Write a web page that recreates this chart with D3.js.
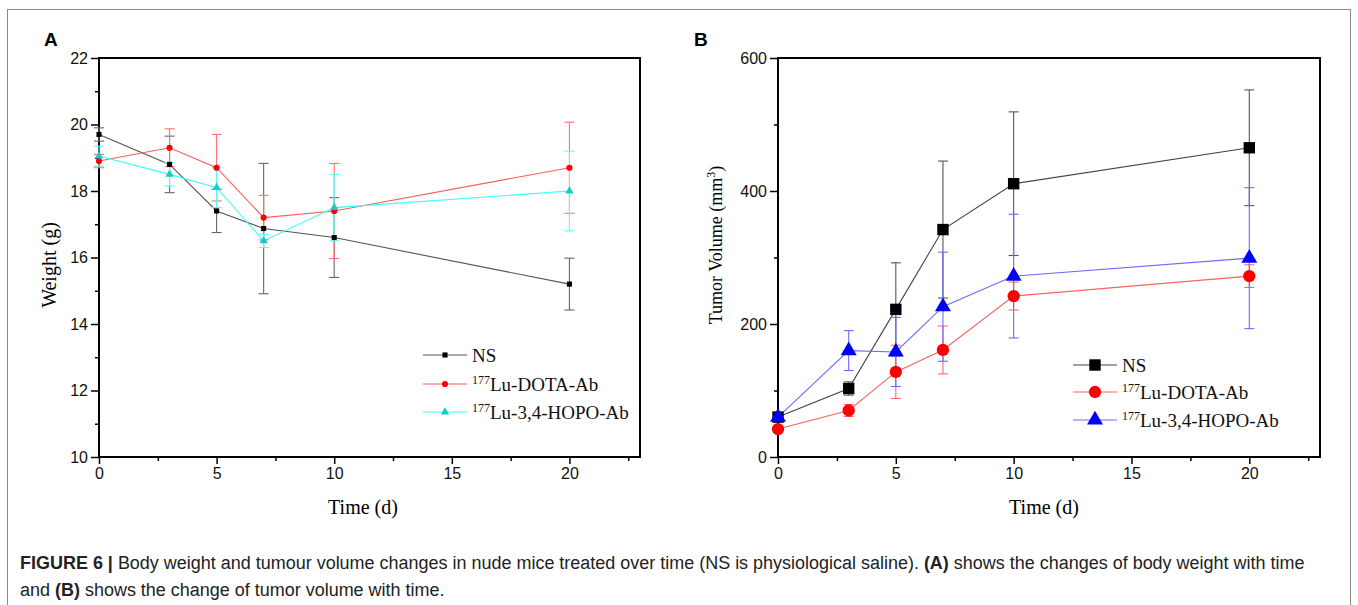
<!DOCTYPE html>
<html>
<head>
<meta charset="utf-8">
<script src="https://cdn.jsdelivr.net/npm/d3@7"></script>
<style>
  body { margin: 0; background: #fff; }
  svg { display: block; }
</style>
</head>
<body>
<script>
// time points (days)
var days = [0, 3, 5, 7, 10, 20];

// panel A: body weight (g), mean and error
var weightNS = [19.7, 18.8, 17.4, 16.87, 16.6, 15.2];
var weightNSErr = [0.2, 0.85, 0.65, 1.96, 1.2, 0.78];
var weightDOTA = [18.9, 19.3, 18.7, 17.2, 17.4, 18.7];
var weightDOTAErr = [0.2, 0.57, 1.0, 0.67, 1.43, 1.37];
var weightHOPO = [19.05, 18.5, 18.1, 16.5, 17.5, 18.0];
var weightHOPOErr = [0.3, 0.35, 0.6, 0.2, 1.0, 1.2];

// panel B: tumor volume (mm3), mean and error
var volNS = [60, 103, 222, 342, 411, 465];
var volNSErr = [5, 10, 70, 103, 108, 87];
var volDOTA = [42, 70, 128, 161, 242, 272];
var volDOTAErr = [5, 9, 40, 36, 21, 17];
var volHOPO = [60, 160, 158, 226, 272, 299];
var volHOPOErr = [7, 30, 52, 82, 93, 106];

var xTicks = [0, 5, 10, 15, 20];
var weightTicks = [10, 12, 14, 16, 18, 20, 22];
var volTicks = [0, 200, 400, 600];

var W = 1358, H = 605;
var serif = "'Liberation Serif', 'Times New Roman', serif";
var sans = "'Liberation Sans', Arial, sans-serif";

var svg = d3.select("body").append("svg")
    .attr("width", W)
    .attr("height", H);

// outer frame around figure + caption
svg.append("rect")
    .attr("x", 7.5).attr("y", 9.5)
    .attr("width", 1343).attr("height", 620)
    .attr("fill", "none")
    .attr("stroke", "#8a8a8a")
    .attr("stroke-width", 1);

function drawPanel(cfg) {
    var g = svg.append("g");
    var x = d3.scaleLinear().domain([0, 23]).range([cfg.left, cfg.right]);
    var y = d3.scaleLinear().domain(cfg.yDomain).range([cfg.bottom, cfg.top]);

    // panel letter
    g.append("text")
        .attr("x", cfg.letterX).attr("y", 46)
        .style("font-family", sans).style("font-weight", "bold")
        .style("font-size", "19px")
        .text(cfg.letter);

    // minor ticks sit halfway between major ones
    var xMinor = d3.range(2.5, 23, 5);
    var yMinor = d3.range(cfg.yDomain[0] + cfg.yStep / 2, cfg.yDomain[1], cfg.yStep);

    var xAxis = d3.axisBottom(x).tickValues(xTicks).tickSize(7).tickPadding(4);
    var xAxisMinor = d3.axisBottom(x).tickValues(xMinor).tickSize(4).tickFormat("");
    var yAxis = d3.axisLeft(y).tickValues(cfg.yTicks).tickSize(8).tickPadding(3);
    var yAxisMinor = d3.axisLeft(y).tickValues(yMinor).tickSize(4).tickFormat("");

    [xAxis, xAxisMinor].forEach(function(a) {
        g.append("g")
            .attr("transform", "translate(0," + cfg.bottom + ")")
            .call(a);
    });
    [yAxis, yAxisMinor].forEach(function(a) {
        g.append("g")
            .attr("transform", "translate(" + cfg.left + ",0)")
            .call(a);
    });
    g.selectAll(".domain").remove();
    g.selectAll(".tick line").attr("stroke", "#000").attr("stroke-width", 1.5);
    g.selectAll(".tick text")
        .style("font-family", sans).style("font-size", "16px")
        .attr("fill", "#111");

    // frame
    g.append("rect")
        .attr("x", cfg.left).attr("y", cfg.top)
        .attr("width", cfg.right - cfg.left).attr("height", cfg.bottom - cfg.top)
        .attr("fill", "none").attr("stroke", "#000").attr("stroke-width", 2);

    // axis titles
    g.append("text")
        .attr("x", cfg.xTitleX).attr("y", 514)
        .attr("text-anchor", "middle")
        .style("font-family", serif).style("font-size", "20px")
        .text("Time (d)");

    var yt = g.append("text")
        .attr("transform", "translate(" + cfg.yTitleX + "," + cfg.yTitleY + ") rotate(-90)")
        .attr("text-anchor", "middle")
        .style("font-family", serif).style("font-size", cfg.yTitleSize);
    cfg.yTitle(yt);

    var line = d3.line()
        .x(function(d, i) { return x(days[i]); })
        .y(function(d) { return y(d); });

    cfg.series.forEach(function(s) {
        g.append("path")
            .datum(s.values)
            .attr("d", line)
            .attr("fill", "none")
            .attr("stroke", s.line)
            .attr("stroke-width", 1.1);
    });

    // error bars
    cfg.series.forEach(function(s) {
        var eb = g.append("g").attr("stroke", s.err).attr("stroke-width", 1.1);
        s.values.forEach(function(v, i) {
            var cx = x(days[i]);
            var y1 = y(v + s.errs[i]), y0 = y(v - s.errs[i]);
            eb.append("line").attr("x1", cx).attr("x2", cx).attr("y1", y1).attr("y2", y0);
            [y1, y0].forEach(function(yy) {
                eb.append("line")
                    .attr("x1", cx - cfg.cap).attr("x2", cx + cfg.cap)
                    .attr("y1", yy).attr("y2", yy);
            });
        });
    });

    // markers
    cfg.series.forEach(function(s) {
        g.append("g").selectAll("path")
            .data(s.values)
            .join("path")
            .attr("transform", function(d, i) {
                return "translate(" + x(days[i]) + "," + y(d) + ")";
            })
            .attr("d", d3.symbol().type(s.symbol).size(s.size))
            .attr("fill", s.marker);
    });

    // legend
    var lg = g.append("g");
    cfg.series.forEach(function(s, i) {
        var ly = cfg.legendY[i];
        lg.append("line")
            .attr("x1", cfg.legendX).attr("x2", cfg.legendX + 44)
            .attr("y1", ly).attr("y2", ly)
            .attr("stroke", s.line).attr("stroke-width", 1.1);
        lg.append("path")
            .attr("transform", "translate(" + (cfg.legendX + 22) + "," + ly + ")")
            .attr("d", d3.symbol().type(s.symbol).size(s.size))
            .attr("fill", s.marker);
        var t = lg.append("text")
            .attr("x", cfg.legendX + 49).attr("y", ly + 7)
            .style("font-family", serif).style("font-size", "19px")
            .attr("fill", "#111");
        if (s.sup) {
            t.append("tspan").attr("dy", -7).style("font-size", "12px").text(s.sup);
            t.append("tspan").attr("dy", 7).text(s.name);
        } else {
            t.text(s.name);
        }
    });
}

drawPanel({
    letter: "A", letterX: 44,
    left: 99, right: 640, top: 58, bottom: 457,
    yDomain: [10, 22], yStep: 2, yTicks: weightTicks,
    xTitleX: 363, yTitleX: 56, yTitleY: 265, yTitleSize: "20px",
    yTitle: function(t) { t.text("Weight (g)"); },
    cap: 5,
    legendX: 423, legendY: [355, 384, 412],
    series: [
        { name: "NS", values: weightNS, errs: weightNSErr, symbol: d3.symbolSquare, size: 26,
          line: "#555", err: "#666", marker: "#000" },
        { name: "Lu-DOTA-Ab", sup: "177", values: weightDOTA, errs: weightDOTAErr, symbol: d3.symbolCircle, size: 30,
          line: "#ff5a5a", err: "#ff7070", marker: "#f00" },
        { name: "Lu-3,4-HOPO-Ab", sup: "177", values: weightHOPO, errs: weightHOPOErr, symbol: d3.symbolTriangle, size: 30,
          line: "#3ff", err: "#5ff", marker: "#1cc" }
    ]
});

drawPanel({
    letter: "B", letterX: 694,
    left: 778, right: 1320, top: 58, bottom: 457,
    yDomain: [0, 600], yStep: 200, yTicks: volTicks,
    xTitleX: 1044, yTitleX: 722, yTitleY: 245, yTitleSize: "18px",
    yTitle: function(t) {
        t.append("tspan").text("Tumor Volume (mm");
        t.append("tspan").attr("dy", -7).style("font-size", "12px").text("3");
        t.append("tspan").attr("dy", 7).text(")");
    },
    cap: 5,
    legendX: 1073, legendY: [365, 392, 420],
    series: [
        { name: "NS", values: volNS, errs: volNSErr, symbol: d3.symbolSquare, size: 130,
          line: "#444", err: "#555", marker: "#000" },
        { name: "Lu-DOTA-Ab", sup: "177", values: volDOTA, errs: volDOTAErr, symbol: d3.symbolCircle, size: 120,
          line: "#ff6060", err: "#ff6a6a", marker: "#f00" },
        { name: "Lu-3,4-HOPO-Ab", sup: "177", values: volHOPO, errs: volHOPOErr, symbol: d3.symbolTriangle, size: 110,
          line: "#6a6aff", err: "#6a6aff", marker: "#00f" }
    ]
});

// caption
var cap1 = svg.append("text").attr("x", 20).attr("y", 569)
    .style("font-family", sans).style("font-size", "17px").attr("fill", "#222");
cap1.append("tspan").style("font-weight", "bold").text("FIGURE 6 |");
cap1.append("tspan").text(" Body weight and tumour volume changes in nude mice treated over time (NS is physiological saline). ");
cap1.append("tspan").style("font-weight", "bold").text("(A)");
cap1.append("tspan").text(" shows the changes of body weight with time");

var cap2 = svg.append("text").attr("x", 20).attr("y", 596)
    .style("font-family", sans).style("font-size", "17px").attr("fill", "#222");
cap2.append("tspan").text("and ");
cap2.append("tspan").style("font-weight", "bold").text("(B)");
cap2.append("tspan").text(" shows the change of tumor volume with time.");

// fit caption line width to the reference
var len = cap1.node().getComputedTextLength();
var fs = 17 * 1285 / len;
cap1.style("font-size", fs + "px");
cap2.style("font-size", fs + "px");
</script>
</body>
</html>
